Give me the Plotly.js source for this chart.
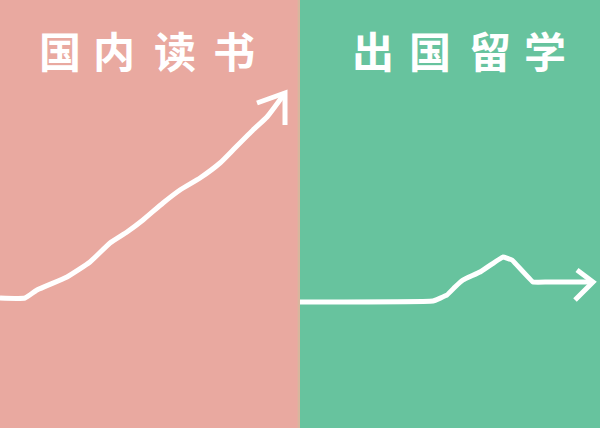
<!DOCTYPE html>
<html><head><meta charset="utf-8">
<script src="https://cdn.plot.ly/plotly-3.0.1.min.js"></script>
<style>html,body{margin:0;padding:0;background:#fff}#c{width:600px;height:428px}</style>
</head><body><div id="c"></div>
<script>
// Panel titles
const titles = ["国内读书", "出国留学"];
// Left: 国内读书 curve (time vs progress)
const homeX = [0, 25, 37, 67, 90, 110, 127, 143, 163, 180, 200, 220, 233, 253, 267, 285];
const homeY = [130, 130, 138, 151, 166, 185, 196, 208, 225, 238, 250, 265, 278, 298, 311, 335];
const homeHeadX = [257, 285, 285];
const homeHeadY = [325, 335, 303];
// Right: 出国留学 curve
const abroadX = [300, 433, 447, 455, 463, 480, 503, 512, 533, 547, 590];
const abroadY = [126, 127, 133, 141, 148, 156, 171, 168, 146, 146, 146];
const abroadHeadX = [577, 593, 575];
const abroadHeadY = [158, 146, 128];

const lineStyle = {color: "#FFFFFF", width: 5, shape: "spline", smoothing: 0.4};
const headStyle = {color: "#FFFFFF", width: 5};
const traces = [
  {x: homeX, y: homeY, mode: "lines", line: lineStyle, hoverinfo: "skip"},
  {x: homeHeadX, y: homeHeadY, mode: "lines", line: headStyle, hoverinfo: "skip"},
  {x: abroadX, y: abroadY, mode: "lines", line: Object.assign({}, lineStyle, {smoothing: 0.2}), hoverinfo: "skip"},
  {x: abroadHeadX, y: abroadHeadY, mode: "lines", line: headStyle, hoverinfo: "skip"}
];
const titleFont = {family: "Noto Sans CJK SC", size: 42, color: "#FFFFFF"};
// character placement for the spaced-out hand-lettered titles (paper fractions)
const charPos = [[0.10, 0.19, 0.292, 0.39], [0.622, 0.717, 0.817, 0.908]];
const annotations = [];
titles.forEach((t, i) => {
  Array.from(t).forEach((ch, j) => {
    annotations.push({xref: "paper", yref: "paper", x: charPos[i][j], y: 0.885,
      text: "<b>" + ch + "</b>", showarrow: false, font: titleFont, xanchor: "center", yanchor: "middle"});
  });
});
const layout = {
  width: 600, height: 428,
  margin: {l: 0, r: 0, t: 0, b: 0},
  paper_bgcolor: "#D9B59E",
  plot_bgcolor: "rgba(0,0,0,0)",
  showlegend: false,
  xaxis: {range: [0, 600], visible: false, fixedrange: true},
  yaxis: {range: [0, 428], visible: false, fixedrange: true},
  shapes: [
    {type: "rect", xref: "paper", yref: "paper", x0: 0, x1: 0.496, y0: 0, y1: 1, fillcolor: "#E9A9A0", line: {width: 0}, layer: "below"},
    {type: "rect", xref: "paper", yref: "paper", x0: 0.5, x1: 1, y0: 0, y1: 1, fillcolor: "#67C39E", line: {width: 0}, layer: "below"}
  ],
  annotations: annotations
};
Plotly.newPlot("c", traces, layout, {staticPlot: true, displayModeBar: false});
</script></body></html>
